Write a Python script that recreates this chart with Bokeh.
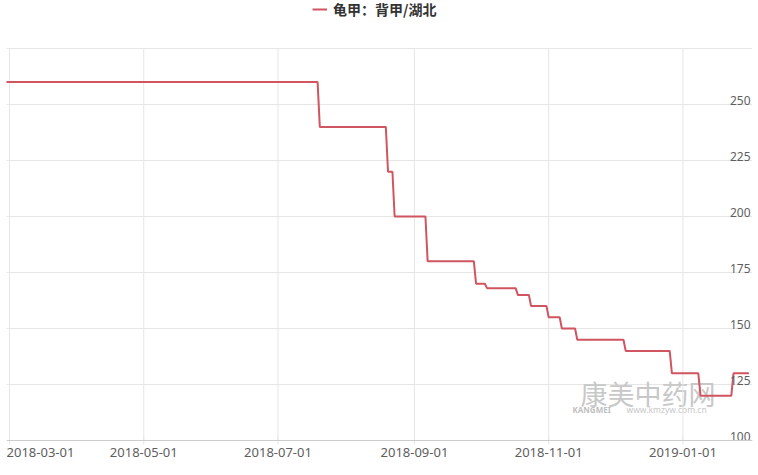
import math
import pandas as pd
from bokeh.plotting import figure
from bokeh.models import (ColumnDataSource, Range1d, FixedTicker, Legend, LegendItem, Label, Span)
from bokeh.core.properties import value
from bokeh.embed import file_html
from bokeh.resources import INLINE

# ---------------- data ----------------
series_name = "龟甲：背甲/湖北"
dates = [
    "2018-02-26", "2018-07-19",
    "2018-07-20", "2018-08-19",
    "2018-08-20", "2018-08-22",
    "2018-08-23", "2018-09-06",
    "2018-09-07", "2018-09-28",
    "2018-09-29", "2018-10-03",
    "2018-10-04", "2018-10-17",
    "2018-10-18", "2018-10-23",
    "2018-10-24", "2018-10-31",
    "2018-11-01", "2018-11-06",
    "2018-11-07", "2018-11-13",
    "2018-11-14", "2018-12-05",
    "2018-12-06", "2018-12-26",
    "2018-12-27", "2019-01-08",
    "2019-01-09", "2019-01-23",
    "2019-01-24", "2019-01-31",
]
prices = [
    260, 260,
    240, 240,
    220, 220,
    200, 200,
    180, 180,
    170, 170,
    168, 168,
    165, 165,
    160, 160,
    155, 155,
    150, 150,
    145, 145,
    140, 140,
    130, 130,
    120, 120,
    130, 130,
]
x_tick_dates = ["2018-03-01", "2018-05-01", "2018-07-01", "2018-09-01", "2018-11-01", "2019-01-01"]
x_tick_labels = ["2018-03-01", "2018-05-01", "2018-07-01", "2018-09-01", "2018-11-01", "2019-01-01"]
y_grid_values = [100, 125, 150, 175, 200, 225, 250, 275]
y_tick_values = [100, 125, 150, 175, 200, 225, 250]
y_tick_labels = ["100", "125", "150", "175", "200", "225", "250"]

# ---------------- styling ----------------
LINE_COLOR = "#d05560"
GRID_COLOR = "#e6e6e6"
AXIS_COLOR = "#cccccc"
LABEL_COLOR = "#5e5e5e"
FONT = "Noto Sans"
CJK = "Noto Sans CJK SC"

W, H = 758, 475
LEFT, RIGHT = 6, 6
GRID_TOP_PX, AXIS_Y_PX = 48, 440      # pixel rows of the value-axis max and min
Y_MIN, Y_MAX = 100, 275
px_per_unit = (AXIS_Y_PX - GRID_TOP_PX) / (Y_MAX - Y_MIN)
y_bottom = Y_MIN - (H - AXIS_Y_PX) / px_per_unit
y_top = Y_MAX + GRID_TOP_PX / px_per_unit

x_start = pd.Timestamp("2018-02-27 15:00")
x_end = pd.Timestamp("2019-02-01 15:00")

src = ColumnDataSource(dict(date=pd.to_datetime(dates), price=prices))
xt = pd.to_datetime(x_tick_dates)

p = figure(width=W, height=H, output_backend="svg", toolbar_location=None,
           x_axis_type="datetime",
           x_range=Range1d(x_start, x_end), y_range=Range1d(y_bottom, y_top),
           min_border_left=LEFT, min_border_right=RIGHT, min_border_top=0, min_border_bottom=0)
p.outline_line_color = None
p.background_fill_color = "white"
p.xaxis.visible = False
p.yaxis.visible = False
p.xgrid.visible = False
p.ygrid.ticker = FixedTicker(ticks=y_grid_values)
p.ygrid.grid_line_color = GRID_COLOR

# vertical grid lines from the tick dates
p.segment(x0=xt, y0=[Y_MIN] * len(xt), x1=xt, y1=[Y_MAX] * len(xt),
          line_color=GRID_COLOR, line_width=1)
# small tick marks crossing the axis
p.scatter(x=xt, y=[Y_MIN] * len(xt), marker="dash", angle=math.pi / 2, size=8,
          line_color=GRID_COLOR, line_width=1)
# axis line
p.add_layout(Span(location=Y_MIN, dimension="width", line_color=AXIS_COLOR, line_width=1))

# watermark (screen units measured from the frame's lower-left corner)
p.add_layout(Label(x=574, y=H - 412, x_units="screen", y_units="screen",
                   text="康美中药网", text_font=CJK, text_font_size="27px",
                   text_color="#c8c8c8", text_baseline="bottom", level="underlay"))
p.add_layout(Label(x=566, y=H - 414, x_units="screen", y_units="screen",
                   text="KANGMEI", text_font=FONT, text_font_size="8px", text_font_style="bold",
                   text_color="#c0c0c0", text_baseline="bottom", level="underlay"))
p.add_layout(Label(x=620, y=H - 414, x_units="screen", y_units="screen",
                   text="www.kmzyw.com.cn", text_font=FONT, text_font_size="8.5px",
                   text_color="#c8c8c8", text_baseline="bottom", level="underlay"))

r = p.line(x="date", y="price", source=src, line_color=LINE_COLOR, line_width=2)

# y labels inside plot, right side, above grid lines
p.text(x=[x_end] * len(y_tick_values), y=y_tick_values, text=y_tick_labels,
       text_align="right", text_baseline="bottom", x_offset=-2, y_offset=0,
       text_font=value(FONT), text_font_size="12px", text_color=LABEL_COLOR)

# x labels below axis
p.text(x=xt[:1], y=[Y_MIN], text=x_tick_labels[:1],
       text_align="left", text_baseline="top", x_offset=-3, y_offset=7,
       text_font=value(FONT), text_font_size="13px", text_color=LABEL_COLOR)
p.text(x=xt[1:], y=[Y_MIN] * (len(xt) - 1), text=x_tick_labels[1:],
       text_align="center", text_baseline="top", x_offset=0, y_offset=7,
       text_font=value(FONT), text_font_size="13px", text_color=LABEL_COLOR)

legend = Legend(items=[LegendItem(label=series_name, renderers=[r])],
                location=(306, H - 5 - 14), orientation="horizontal",
                border_line_color=None, background_fill_alpha=0,
                padding=0, margin=0, spacing=0, glyph_width=15, glyph_height=14,
                label_height=14, label_standoff=6,
                label_text_font=CJK, label_text_font_style="bold",
                label_text_font_size="14px", label_text_color="#333333")
p.add_layout(legend)

open("out.html", "w").write(file_html(p, INLINE))
